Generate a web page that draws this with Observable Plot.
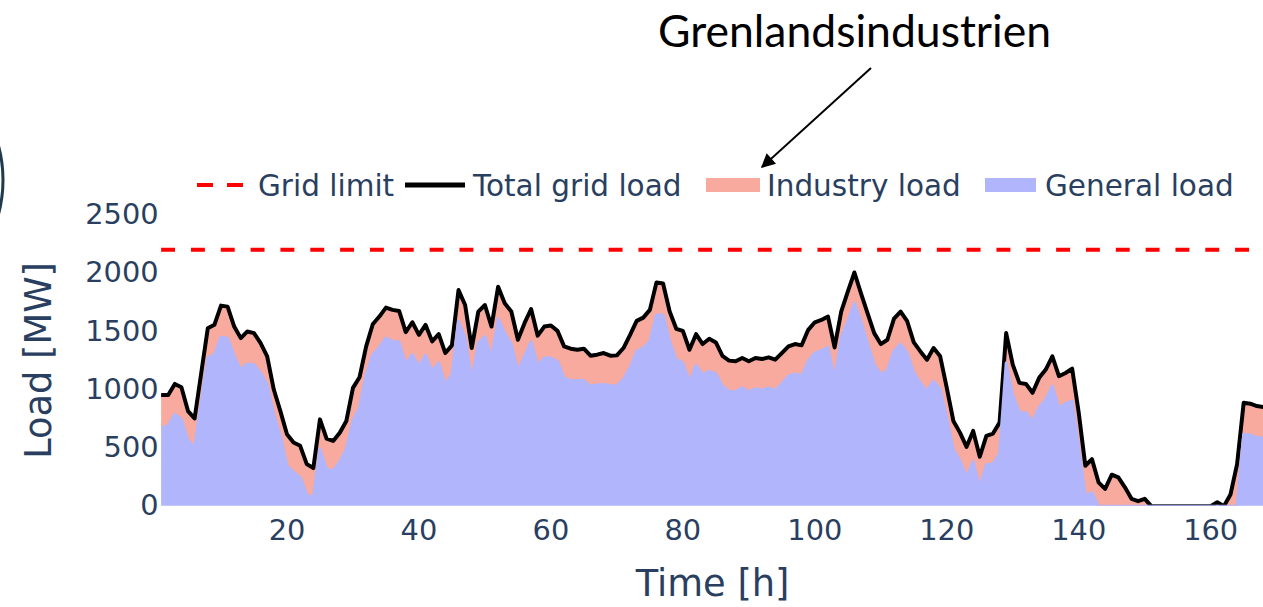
<!DOCTYPE html>
<html><head><meta charset="utf-8">
<script src="https://cdn.jsdelivr.net/npm/d3@7"></script>
<script src="https://cdn.jsdelivr.net/npm/@observablehq/plot@0.6"></script>
<style>
html,body{margin:0;padding:0;background:#fff;overflow:hidden;width:1263px;height:607px;}
#wrap{position:relative;width:1263px;height:607px;overflow:hidden;}
#chart{position:absolute;left:0;top:0;}
#overlay{position:absolute;left:0;top:0;}
</style></head><body>
<div id="wrap"><div id="chart"></div></div>
<script>
// ---- data ----
const hours = d3.range(1, 169);
const totalLoad = [
  953,953,1049,1021,816,753,1140,1527,1556,1721,
  1712,1541,1442,1499,1485,1399,1286,1001,816,617,
  546,518,361,327,745,580,560,630,731,1015,
  1106,1371,1561,1627,1704,1684,1675,1493,1578,1470,
  1556,1414,1476,1314,1380,1854,1726,1357,1670,1726,
  1541,1883,1741,1670,1428,1570,1692,1463,1541,1550,
  1504,1371,1351,1342,1351,1291,1300,1314,1291,1294,
  1357,1470,1590,1618,1684,1920,1911,1670,1522,1504,
  1342,1476,1391,1436,1405,1290,1249,1243,1271,1243,
  1271,1263,1277,1257,1314,1371,1391,1380,1513,1578,
  1598,1627,1362,1670,1840,2005,1826,1655,1485,1391,
  1428,1610,1670,1587,1405,1328,1257,1357,1286,1015,
  731,631,509,646,424,603,623,717,1485,1214,
  1058,1049,973,1101,1172,1286,1115,1143,1180,802,
  347,404,205,148,270,247,162,63,43,63,
  0,0,0,0,0,0,0,0,0,0,
  34,0,100,361,887,879,859,850
];
const generalLoad = [
  674,688,788,745,566,503,890,1271,1300,1450,
  1442,1286,1172,1220,1214,1143,1044,788,603,347,
  290,247,100,71,489,318,304,380,489,731,
  845,1129,1300,1362,1442,1414,1408,1220,1300,1200,
  1294,1158,1229,1044,1129,1584,1442,1078,1399,1456,
  1271,1607,1485,1391,1158,1286,1410,1207,1271,1271,
  1243,1101,1078,1078,1078,1030,1040,1044,1035,1030,
  1087,1186,1328,1357,1414,1641,1641,1414,1257,1229,
  1067,1209,1129,1158,1136,1030,987,981,1015,981,
  1007,998,1015,993,1049,1115,1135,1115,1243,1314,
  1334,1362,1087,1442,1584,1741,1584,1399,1214,1129,
  1163,1330,1391,1314,1145,1058,987,1072,1001,759,
  489,390,247,384,162,356,361,446,1229,958,
  802,802,725,845,916,1030,845,879,902,503,
  92,115,0,0,0,0,0,0,0,0,
  0,0,0,0,0,0,0,0,0,0,
  0,0,0,0,617,610,589,585
];
const gridLimit = 2200;
const xTicks = [20, 40, 60, 80, 100, 120, 140, 160];
const yTicks = [0, 500, 1000, 1500, 2000, 2500];
const legendLabels = ["Grid limit", "Total grid load", "Industry load", "General load"];
const annotationText = "Grenlandsindustrien";

const BLUE = "#b1b6fc", PINK = "#f7aa9d", INK = "#2a3f5f";

const data = hours.map((h, i) => ({h, general: generalLoad[i], total: totalLoad[i]}));

const chart = Plot.plot({
  width: 1270, height: 607,
  marginLeft: 162, marginRight: 0, marginTop: 215.5, marginBottom: 98.5,
  x: {domain: [1, 168]},
  y: {domain: [0, 2500]},
  style: {fontFamily: "DejaVu Sans", fontSize: "28.5px", color: INK, background: "transparent", overflow: "visible"},
  marks: [
    Plot.areaY(data, {x: "h", y1: 0, y2: "general", fill: BLUE}),
    Plot.areaY(data, {x: "h", y1: "general", y2: "total", fill: PINK}),
    Plot.lineY(data, {x: "h", y: "total", stroke: "black", strokeWidth: 4, clip: true}),
    Plot.lineY(data, {x: "h", y: "general", stroke: BLUE, strokeWidth: 3, clip: true}),
    Plot.ruleY([gridLimit], {stroke: "#ff0000", strokeWidth: 4, strokeDasharray: "14,16"}),
    Plot.axisX({ticks: xTicks, tickSize: 0, tickPadding: 13, label: null, fontSize: 29, tickFormat: d3.format("d")}),
    Plot.axisY({ticks: yTicks, tickSize: 0, tickPadding: 3, label: null, fontSize: 29, tickFormat: d3.format("d")}),
    Plot.text(["Time [h]"], {frameAnchor: "bottom", dy: 90, lineAnchor: "bottom", textAnchor: "middle", fontSize: 37}),
    Plot.text(["Load [MW]"], {frameAnchor: "left", dx: -111.5, rotate: -90, lineAnchor: "bottom", textAnchor: "middle", fontSize: 37})
  ]
});
document.getElementById("chart").appendChild(chart);

// ---- overlay: legend, annotation, slide decoration ----
const svg = d3.select("#wrap").append("svg").attr("id", "overlay")
  .attr("width", 1263).attr("height", 607);

// slide decoration arc on the left edge
svg.append("circle").attr("cx", -129).attr("cy", 180).attr("r", 132)
  .attr("fill", "none").attr("stroke", "#1d3b4d").attr("stroke-width", 3);

// legend
const legY = 185;
const lg = svg.append("g").attr("font-family", "DejaVu Sans").attr("font-size", 29.5).attr("fill", INK);
lg.append("line").attr("x1", 197).attr("x2", 213).attr("y1", legY).attr("y2", legY).attr("stroke", "#ff0000").attr("stroke-width", 4);
lg.append("line").attr("x1", 227).attr("x2", 243).attr("y1", legY).attr("y2", legY).attr("stroke", "#ff0000").attr("stroke-width", 4);
lg.append("line").attr("x1", 405).attr("x2", 465).attr("y1", legY).attr("y2", legY).attr("stroke", "black").attr("stroke-width", 5);
lg.append("rect").attr("x", 706).attr("y", legY - 7).attr("width", 54).attr("height", 14).attr("fill", PINK);
lg.append("rect").attr("x", 985).attr("y", legY - 7).attr("width", 51).attr("height", 14).attr("fill", BLUE);
const legX = [258, 473, 767, 1045];
legendLabels.forEach((t, i) => {
  lg.append("text").attr("x", legX[i]).attr("y", legY + 10.5).text(t);
});

// annotation with arrow
const defs = svg.append("defs");
defs.append("marker").attr("id", "ah").attr("viewBox", "0 0 10 10").attr("refX", 9).attr("refY", 5)
  .attr("orient", "auto").attr("markerUnits", "userSpaceOnUse")
  .attr("markerWidth", 18).attr("markerHeight", 14)
  .append("path").attr("d", "M0,0 L10,5 L0,10 z").attr("fill", "black");
svg.append("line").attr("x1", 871).attr("y1", 68).attr("x2", 762).attr("y2", 167)
  .attr("stroke", "black").attr("stroke-width", 2).attr("marker-end", "url(#ah)");
svg.append("text").attr("x", 658).attr("y", 47).attr("font-family", "Lato").attr("font-size", 44.5)
  .attr("fill", "black").text(annotationText);
</script>
</body></html>
